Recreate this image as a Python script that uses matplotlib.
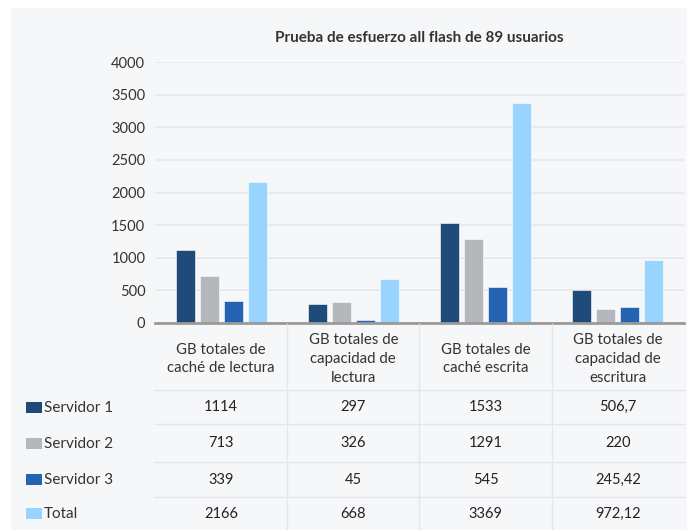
import numpy as np
import matplotlib
matplotlib.use("Agg")
import matplotlib.pyplot as plt
from matplotlib.patches import Rectangle

plt.rcParams["font.family"] = ["Lato", "DejaVu Sans"]

# datos
categorias = ["GB totales de\ncaché de lectura",
              "GB totales de\ncapacidad de\nlectura",
              "GB totales de\ncaché escrita",
              "GB totales de\ncapacidad de\nescritura"]
series = ["Servidor 1", "Servidor 2", "Servidor 3", "Total"]
servidor1 = [1114, 297, 1533, 506.7]
servidor2 = [713, 326, 1291, 220]
servidor3 = [339, 45, 545, 245.42]
total = [2166, 668, 3369, 972.12]
etiquetas = [["1114", "297", "1533", "506,7"],
             ["713", "326", "1291", "220"],
             ["339", "45", "545", "245,42"],
             ["2166", "668", "3369", "972,12"]]
colores = ["#1f4b7b", "#b4b7bc", "#2463b2", "#98d4fe"]
titulo = "Prueba de esfuerzo all flash de 89 usuarios"

W, H = 691, 530
fig = plt.figure(figsize=(W / 100, H / 100), dpi=100)
fig.patch.set_facecolor("white")
fondo = fig.add_axes([11 / W, 0, 676 / W, 1 - 8 / H], zorder=-10)
fondo.set_facecolor("#f6f7f9")
fondo.set_xticks([]); fondo.set_yticks([])
for s in fondo.spines.values():
    s.set_visible(False)

# zona del grafico en pixeles
x0, x1 = 155, 684
y_cero, y_top = 323, 62
ax = fig.add_axes([x0 / W, 1 - y_cero / H, (x1 - x0) / W, (y_cero - y_top) / H])
ax.set_facecolor("none")

valores = [servidor1, servidor2, servidor3, total]
x = np.arange(len(categorias))
paso, ancho = 0.181, 0.144
for k, (vals, col) in enumerate(zip(valores, colores)):
    ax.bar(x + (k - 1.5) * paso, vals, width=ancho, color=col,
           edgecolor="white", linewidth=0.4, zorder=3)

ax.set_xlim(-0.5, len(categorias) - 0.5)
ax.set_ylim(0, 4000)
ax.set_yticks(range(0, 4001, 500))
ax.tick_params(axis="y", length=0, pad=7, labelsize=10.5, labelcolor="#333333")
ax.set_xticks([])
ax.grid(axis="y", color="#e6e8ec", linewidth=1.2, zorder=0)
for s in ["top", "right", "left"]:
    ax.spines[s].set_visible(False)
ax.spines["bottom"].set_color("#9a9a9a")
ax.spines["bottom"].set_linewidth(2)
ax.spines["bottom"].set_zorder(4)

ax.text(0.5, (y_top - 38) / (y_cero - y_top) + 1, titulo, transform=ax.transAxes,
        ha="center", va="center", fontsize=11, fontweight="bold", color="#333333")

# tabla de datos debajo
tab = fig.add_axes([0, 0, 1, 1], zorder=5)
tab.set_xlim(0, W)
tab.set_ylim(H, 0)
tab.axis("off")
tab.patch.set_alpha(0)

col_w = (x1 - x0) / len(categorias)
centros = [x0 + (i + 0.5) * col_w for i in range(len(categorias))]
filas = [390, 424, 462, 497, 530]

for i in range(1, len(categorias)):
    tab.plot([x0 + i * col_w] * 2, [y_cero + 1, H], color="#e4e6ea", lw=1)
for yl in filas[:-1]:
    tab.plot([x0, x1], [yl, yl], color="#e4e6ea", lw=1)

for cx, cat in zip(centros, categorias):
    tab.text(cx, 359, cat, ha="center", va="center", fontsize=10.8,
             color="#333333", linespacing=1.45)

for r, nombre in enumerate(series):
    cy = (filas[r] + filas[r + 1]) / 2
    tab.add_patch(Rectangle((26, cy - 5.5), 16, 11, facecolor=colores[r], edgecolor="none"))
    tab.text(44, cy + 1, nombre, ha="left", va="center", fontsize=11, color="#333333")
    for cx, lab in zip(centros, etiquetas[r]):
        tab.text(cx, cy, lab, ha="center", va="center", fontsize=10.5, color="#222222")

fig.savefig("out.png", dpi=100)
